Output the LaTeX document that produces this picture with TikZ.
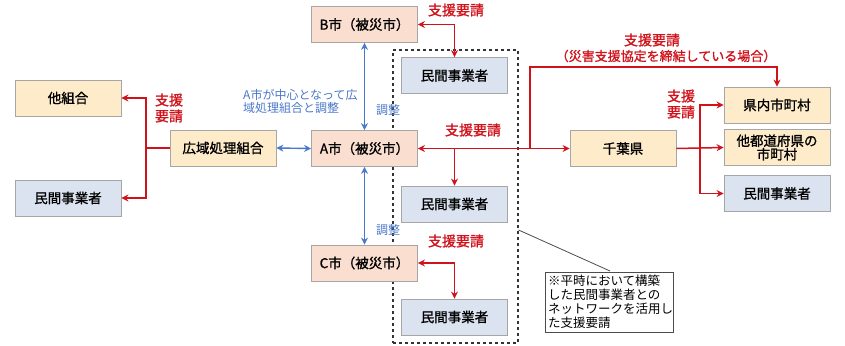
\documentclass[tikz,border=0pt]{standalone}
\usepackage{fontspec}
\setmainfont{Noto Sans CJK JP}
\newfontfamily\medfont{Noto Sans CJK JP}[FakeBold=1.2]
\usetikzlibrary{arrows.meta,positioning}
\definecolor{boxline}{HTML}{A6A6A6}
\definecolor{yel}{HTML}{FDEBCA}
\definecolor{peach}{HTML}{FADFD0}
\definecolor{lblue}{HTML}{DCE3F0}
\definecolor{req}{HTML}{D0121B}
\definecolor{coord}{HTML}{4A78C8}
\tikzset{
  bx/.style={draw=boxline, line width=0.8pt, minimum width=106pt, minimum height=36pt, inner sep=0pt, font=\medfont\fontsize{13.5}{15.5}\selectfont, align=center},
  ybox/.style={bx, fill=yel},
  pbox/.style={bx, fill=peach},
  bbox/.style={bx, fill=lblue},
  redarr/.style={draw=req, line width=1.5pt, -{Stealth[length=7pt,width=7pt]}},
  redline/.style={draw=req, line width=1.5pt},
  bluearr/.style={draw=coord, line width=1.4pt, {Stealth[length=7pt,width=7pt]}-{Stealth[length=7pt,width=7pt]}},
  redlbl/.style={text=req, font=\medfont\fontsize{14}{16}\selectfont, inner sep=0pt, align=center},
  bluelbl/.style={text=coord, font=\fontsize{12}{13.5}\selectfont, inner sep=0pt, align=left},
}
\begin{document}
\begin{tikzpicture}[x=1pt,y=-1pt]
\useasboundingbox (0,0) rectangle (845,345);
% dashed box
\node[draw=black!80, dashed, line width=1.1pt, minimum width=125pt, minimum height=293pt, inner sep=0pt] (dbox) at (455.5,196.5) {};
% left
\node[ybox] (tako) at (68,98) {他組合};
\node[bbox] (minL) at (68,198) {民間事業者};
\node[ybox] (kouiki) at (223,148) {広域処理組合};
% cities
\node[pbox] (B) at (364.5,24.5) {B市（被災市）};
\node[pbox] (A) at (364.5,148.5) {A市（被災市）};
\node[pbox] (C) at (364.5,263) {C市（被災市）};
% private in dashed
\node[bbox] (m1) at (454.5,75.5) {民間事業者};
\node[bbox] (m2) at (454.5,204) {民間事業者};
\node[bbox] (m3) at (454.5,317) {民間事業者};
% right
\node[ybox] (chiba) at (623,148.5) {千葉県};
\node[ybox] (ken1) at (777,105) {県内市町村};
\node[ybox] (ken2) at (777,147.5) {他都道府県の\\[-2pt]市町村};
\node[bbox] (minR) at (777,193.5) {民間事業者};
% note
\node[draw=black!70, line width=0.8pt, minimum width=128pt, minimum height=60pt, inner sep=3pt, align=left, font=\fontsize{12.5}{14}\selectfont, text width=122pt] (note) at (609,302) {※平時において構築\\した民間事業者との\\ネットワークを活用し\\た支援要請};
\coordinate (nstart) at (dbox.east |- 0,230);
\draw[black!70, line width=0.8pt] (nstart) -- (610,271);
% left red
\coordinate (jL) at (146,148);
\draw[redline] (kouiki.west) -- (jL);
\draw[redarr] (jL) |- (tako.east);
\draw[redarr] (jL) |- (minL.east);
\node[redlbl] (lblL) at (169,108) {支援\\要請};
% blue
\draw[bluearr] (kouiki.east) -- (A.west);
\draw[bluearr] (B.south) -- (A.north);
\draw[bluearr] (A.south) -- (C.north);
\node[bluelbl, anchor=north west] (blt) at (243,89) {A市が中心となって広\\域処理組合と調整};
\node[bluelbl] (ch1) at (388,110) {調整};
\node[bluelbl] (ch2) at (388,230) {調整};
% B red
\draw[redarr] (m1.north |- B.east) -- (B.east);
\draw[redarr] (m1.north |- B.east) -- (m1.north);
\node[redlbl] (lblB) at (456,10) {支援要請};
% A red
\draw[redarr, {Stealth[length=7pt,width=7pt]}-{Stealth[length=7pt,width=7pt]}] (A.east) -- (chiba.west);
\draw[redarr] (m2.north |- A.east) -- (m2.north);
\node[redlbl] (lblA) at (473,130) {支援要請};
\coordinate (jA) at (530,148.5);
\coordinate (top) at (530,67);
\draw[redarr] (jA) -- (top) -| (ken1.north);
\node[redlbl] (lblT1) at (652,40) {支援要請};
\node[redlbl, font=\medfont\fontsize{13}{15}\selectfont] (lblT2) at (666,56) {（災害支援協定を締結している場合）};
% C red
\draw[redarr] (m3.north |- C.east) -- (C.east);
\draw[redarr] (m3.north |- C.east) -- (m3.north);
\node[redlbl] (lblC) at (456,241) {支援要請};
% right red
\coordinate (jR) at (700,148.5);
\draw[redarr] (chiba.east) -- (ken2.west);
\draw[redarr] (jR) |- (ken1.west);
\draw[redarr] (jR) |- (minR.west);
\node[redlbl] (lblR) at (681,104) {支援\\要請};
\end{tikzpicture}
\end{document}
